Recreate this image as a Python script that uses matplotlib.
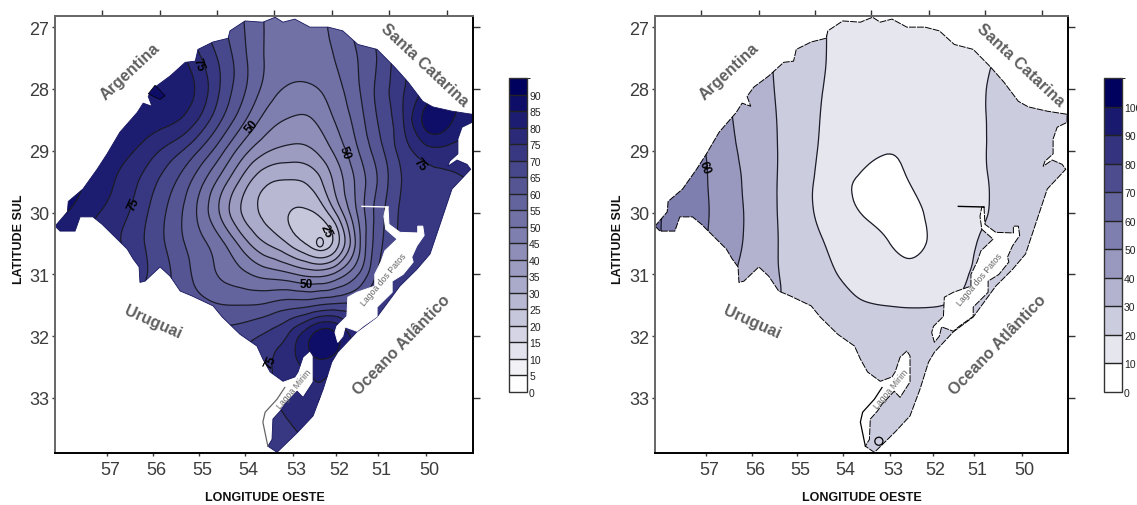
import numpy as np
import matplotlib
matplotlib.use("Agg")
import matplotlib.pyplot as plt
import matplotlib.tri as mtri
from matplotlib.colors import LinearSegmentedColormap, ListedColormap, BoundaryNorm
from matplotlib.patches import Polygon, Ellipse
from matplotlib.transforms import ScaledTranslation

plt.rcParams['font.family'] = ['Liberation Sans', 'DejaVu Sans']

W, H = 1137, 506
grid_lon = [58.5, 58, 57.5, 57, 56.5, 56, 55.5, 55, 54.5, 54, 53.5, 53, 52.5, 52, 51.5, 51, 50.5, 50, 49.5, 49]
grid_lat = [26.5, 27, 27.5, 28, 28.5, 29, 29.5, 30, 30.5, 31, 31.5, 32, 32.5, 33, 33.5, 34]

left_field = [
    [85, 85, 85, 85, 84, 82, 78, 72, 66, 60, 55, 52, 54, 57, 62, 67, 73, 78, 82, 84],
    [85, 85, 85, 85, 84, 82, 78, 72, 66, 60, 54, 50, 53, 56, 62, 67, 73, 78, 82, 84],
    [85, 85, 85, 85, 85, 84, 83, 76, 69, 61, 54, 52.5, 53.5, 55, 60, 66, 75, 80, 83, 85],
    [84, 84, 84, 84, 84, 84, 83.5, 80, 69.5, 61, 53, 49, 49, 53, 59.5, 67.5, 75, 80, 84, 85],
    [82, 82, 82, 82.5, 83, 82.5, 81.5, 75.5, 65.5, 56, 47.5, 44.5, 44.5, 50.5, 57.5, 66.5, 75, 90, 87, 81],
    [84, 83, 83, 82, 81, 76.5, 71.5, 65, 56.5, 46.5, 40.5, 38.5, 39.5, 46, 55, 64, 73, 78, 78, 77],
    [87, 87, 85.5, 81.5, 77, 71, 65, 57, 47.5, 37, 29.5, 29, 31, 41.5, 51.5, 61.5, 71, 73, 74, 75],
    [86, 86, 82, 79, 75, 68.5, 62, 54, 43, 32.5, 28, 24, 23.5, 35, 51.5, 64, 72, 73, 73, 73],
    [84, 84, 82, 78, 73, 68, 62, 57, 52, 42, 34, 28.5, 20, 23, 48, 65, 72, 73, 73, 73],
    [85, 85, 82, 78, 74, 69, 64, 58, 54, 51, 48, 46, 43, 46, 54, 68, 72, 73, 73, 73],
    [70, 70, 70, 70, 70, 68, 65, 62, 60, 60, 61, 63.5, 64, 66, 67, 72, 74, 74, 74, 74],
    [70, 70, 70, 70, 70, 70, 69, 68, 67, 68.5, 71.5, 76.5, 89, 90, 76, 72, 72, 72, 72, 72],
    [70, 70, 70, 70, 70, 70, 70, 70, 70, 72, 74.5, 78, 82, 80, 76, 72, 72, 72, 72, 72],
    [72, 72, 72, 72, 72, 72, 72, 72, 72, 72, 74, 77, 79.5, 80.5, 78, 74, 74, 74, 74, 74],
    [70, 70, 70, 70, 70, 70, 70, 70, 70, 70, 71.5, 74.2, 77.5, 79, 76, 74, 74, 74, 74, 74],
    [70, 70, 70, 70, 70, 70, 70, 70, 70, 70, 70.5, 72, 74, 75, 74, 72, 72, 72, 72, 72],
]
right_field = [
    [62, 57, 51.5, 46, 40.5, 35.5, 29, 24.5, 21, 18.5, 17, 16.5, 16.5, 17, 17.5, 19, 20.5, 22, 23, 24],
    [62, 57, 51.5, 46, 40.5, 35.5, 29, 24.5, 21, 18, 16.5, 16, 16, 16.5, 17, 18.5, 20, 22, 23, 24],
    [62, 57, 52, 46, 40.5, 35, 29.5, 25, 21, 18, 16, 15.5, 15.5, 16, 17, 18.5, 20.5, 22, 23, 24],
    [63, 58, 53, 47.5, 40.3, 35, 30, 25, 20.5, 17.5, 15.5, 14.5, 14.5, 15.5, 17, 19, 21.5, 23, 24, 25],
    [64, 59, 54, 48, 40.7, 36, 30.7, 25, 20, 16.5, 14.5, 13, 13.5, 15, 17, 19, 21.5, 23, 24, 25],
    [65, 60, 55, 50, 42, 37, 31, 25, 19.5, 15.5, 12.5, 10.3, 11.5, 14.5, 17, 19, 21.5, 23, 24, 25],
    [66, 61, 56, 50.5, 43.5, 37.5, 31, 24, 18.5, 11.5, 8, 6, 10.5, 14, 17, 19, 21, 23, 24, 25],
    [65, 60, 56, 51, 44, 38, 31, 24, 18.5, 13, 9, 6, 6, 12.5, 16, 18.7, 21, 23, 24, 25],
    [65, 60, 56, 50.3, 44, 37.5, 31, 25.5, 21, 17, 14, 10.8, 6.5, 11, 15, 20.5, 22, 23, 24, 25],
    [65, 60, 55, 50, 42, 36, 31, 26.5, 22.5, 19.3, 16.5, 14.5, 13, 14, 18, 21, 22.5, 24, 24, 24],
    [55, 50, 45, 42, 38, 34, 31, 27, 24.5, 22.5, 20.5, 20, 19.7, 19.7, 20.5, 22, 23, 24, 24, 24],
    [30, 30, 30, 30, 30, 28, 26, 25, 25, 24, 24, 24, 24, 24, 24, 24, 24, 24, 24, 24],
    [24, 24, 24, 24, 24, 24, 24, 24, 24, 24, 24, 24, 24, 24, 24, 24, 24, 24, 24, 24],
    [24, 24, 24, 24, 24, 24, 24, 24, 24, 24, 24, 24, 24, 24, 24, 24, 24, 24, 24, 24],
    [24, 24, 24, 24, 24, 24, 24, 24, 24, 24, 24, 24, 24, 24, 24, 24, 24, 24, 24, 24],
    [24, 24, 24, 24, 24, 24, 24, 24, 24, 24, 24, 24, 24, 24, 24, 24, 24, 24, 24, 24],
]

state_lon = [58.14, 58.03, 57.70, 57.59, 57.31, 57.11, 56.67, 56.56, 56.43, 56.30, 56.28, 56.17, 55.84, 55.62, 55.40,
             55.14, 54.68, 54.48, 54.09, 53.72, 53.59, 53.43, 53.15, 52.89, 52.82, 52.71, 52.56, 52.49, 52.49, 52.71,
             52.84, 53.11, 53.21, 53.37, 53.39, 53.48, 53.28, 52.82, 52.49, 52.27, 52.08, 51.95, 51.53, 51.09, 50.59,
             50.22, 49.93, 49.71, 49.45, 49.04, 49.12, 49.34, 49.54, 49.50, 49.32, 49.32, 49.23, 49.01, 49.01, 49.45,
             49.87, 50.09, 50.41, 50.70, 51.09, 51.51, 51.84, 52.16, 52.56, 52.89, 53.15, 53.32, 53.59, 53.98, 54.31,
             54.35, 54.68, 55.01, 55.07, 55.29, 55.62, 55.95, 56.10, 56.02, 56.21, 56.34, 56.72, 57.00, 57.22, 57.53,
             57.85, 57.87]
state_lat = [30.22, 30.30, 30.30, 30.07, 30.07, 30.19, 30.51, 30.59, 30.75, 30.88, 31.13, 31.11, 30.88, 31.03, 31.27,
             31.35, 31.51, 31.69, 31.97, 32.16, 32.37, 32.58, 32.73, 32.66, 32.58, 32.34, 32.24, 32.32, 32.74, 32.99,
             32.89, 33.10, 33.21, 33.34, 33.67, 33.78, 33.88, 33.55, 33.29, 32.86, 32.42, 32.26, 31.93, 31.69, 31.19,
             30.92, 30.67, 30.19, 29.62, 29.30, 29.22, 29.15, 29.25, 29.17, 29.05, 28.81, 28.62, 28.54, 28.41, 28.36,
             28.29, 28.20, 27.89, 27.65, 27.36, 27.28, 27.06, 27.00, 27.00, 26.87, 26.92, 26.84, 26.92, 26.90, 27.06,
             27.18, 27.24, 27.36, 27.55, 27.57, 27.79, 27.97, 28.12, 28.28, 28.23, 28.38, 28.70, 29.05, 29.30, 29.62,
             29.82, 29.99]
patos_lon = [50.85, 50.83, 50.59, 50.20, 50.20, 50.09, 50.06, 50.22, 50.33, 50.30, 50.52, 50.76, 50.76, 51.09, 51.09,
             51.40, 51.53, 51.79, 51.84, 51.95, 52.01, 51.97, 51.75, 51.73, 51.53, 51.14, 51.14, 51.00, 50.92, 50.65,
             50.90, 50.94, 50.90]
patos_lat = [29.91, 30.19, 30.32, 30.33, 30.22, 30.22, 30.37, 30.54, 30.72, 30.80, 31.00, 31.11, 31.29, 31.53, 31.68,
             31.84, 31.92, 31.85, 32.00, 32.10, 31.94, 31.84, 31.68, 31.37, 31.29, 31.19, 31.00, 30.79, 30.62, 30.43,
             30.27, 30.06, 29.91]
guaiba_lon = [51.42, 50.85]
guaiba_lat = [29.90, 29.91]
mirim_west_lon = [53.11, 53.28, 53.54, 53.59, 53.50, 53.48]
mirim_west_lat = [32.83, 33.02, 33.23, 33.39, 33.71, 33.78]

left_levels = list(range(0, 100, 5))
right_levels = list(range(0, 120, 10))
bottom_ticks = [57.0, 55.99, 54.99, 53.98, 52.93, 51.99, 51.07, 50.02]
bottom_labels = ['57', '56', '55', '54', '53', '52', '51', '50']
top_ticks = [57.11, 55.84, 54.59, 53.35, 52.08, 50.83, 49.56]
lat_ticks = [27, 28, 29, 30, 31, 32, 33]

region_names = ['Argentina', 'Santa Catarina', 'Uruguai', 'Oceano Atlântico']
region_lon = [56.50, 50.04, 55.99, 50.55]
region_lat = [27.71, 27.60, 31.77, 32.13]
region_rot = [43, -43, -24, 46]
lagoon_names = ['Lagoa dos Patos', 'Lagoa Mirim']
lagoon_lon = [50.94, 52.91]
lagoon_lat = [31.08, 32.84]

left_labels = [('75', 55.00, 27.60, -70), ('75', 56.43, 29.86, 65), ('75', 50.15, 29.22, -50),
               ('75', 53.43, 32.42, 65), ('50', 53.83, 28.60, 50), ('50', 51.79, 29.02, -70),
               ('50', 52.63, 31.16, 0), ('25', 52.21, 30.30, -65)]
right_labels = [('60', 57.03, 29.27, -70)]


def fx(p):
    return p / W


def fy(p):
    return 1 - p / H


def soften(z):
    out = z.copy()
    out[1:-1, 1:-1] = 0.7 * z[1:-1, 1:-1] + 0.075 * (z[:-2, 1:-1] + z[2:, 1:-1] + z[1:-1, :-2] + z[1:-1, 2:])
    return out


def panel(rect, field, levels, cbar_rect, labels, dashed):
    x0, x1, y0, y1 = rect
    ax = fig.add_axes([fx(x0), fy(y1), (x1 - x0) / W, (y1 - y0) / H])
    ax.set_xlim(58.14, 48.99)
    ax.set_ylim(33.89, 26.82)

    n = len(levels) - 1
    base = LinearSegmentedColormap.from_list('nv', ['#ffffff', '#00005f'])
    cmap = ListedColormap([base(i / (n - 1)) for i in range(n)])
    norm = BoundaryNorm(levels, n)

    lon2, lat2 = np.meshgrid(grid_lon, grid_lat)
    tri = mtri.Triangulation(lon2.ravel(), lat2.ravel())
    refiner = mtri.UniformTriRefiner(tri)
    tri2, z2 = refiner.refine_field(soften(np.array(field, float)).ravel(), subdiv=3)

    outline = Polygon(np.column_stack([state_lon, state_lat]), closed=True, transform=ax.transData,
                      fc='none', ec='none')
    ax.add_patch(outline)
    cf = ax.tricontourf(tri2, z2, levels=levels, cmap=cmap, norm=norm)
    cl = ax.tricontour(tri2, z2, levels=levels[1:-1], colors='#1c1c28', linewidths=0.9)
    cf.set_clip_path(outline)
    cl.set_clip_path(outline)

    if dashed:
        ax.plot(state_lon + state_lon[:1], state_lat + state_lat[:1], color='black', lw=0.7,
                ls=(0, (7, 1.2)))
    else:
        ax.plot(state_lon + state_lon[:1], state_lat + state_lat[:1], color='#15155f', lw=0.6)

    ax.add_patch(Polygon(np.column_stack([patos_lon, patos_lat]), closed=True, fc='white',
                         ec='black' if dashed else 'white', lw=0.7, ls=(0, (7, 1.2)) if dashed else '-', zorder=3))
    ax.plot(guaiba_lon, guaiba_lat, color='black' if dashed else 'white', lw=1.0, zorder=3)
    ax.plot(mirim_west_lon, mirim_west_lat, color='black' if dashed else '#666666', lw=0.9, zorder=3)

    for t, lo, la, r in zip(region_names, region_lon, region_lat, region_rot):
        ax.text(lo, la, t, rotation=r, rotation_mode='anchor', ha='center', va='center', fontsize=11.6,
                fontweight='bold', color='#5f5f5f', zorder=5)
    for t, lo, la in zip(lagoon_names, lagoon_lon, lagoon_lat):
        ax.text(lo, la, t, rotation=50, rotation_mode='anchor', ha='center', va='center', fontsize=6.3,
                color='#666666', zorder=5)
    for t, lo, la, r in labels:
        ax.text(lo, la, t, rotation=r, rotation_mode='anchor', ha='center', va='center', fontsize=8.5,
                color='black', fontweight='bold', zorder=6)

    ax.set_xticks(bottom_ticks)
    ax.set_xticklabels(bottom_labels)
    ax.set_yticks(lat_ticks)
    ax.tick_params(axis='both', labelsize=13, colors='#3c3c3c', length=2, width=1, pad=4)
    ax.tick_params(axis='y', pad=2)
    off = ScaledTranslation(3 / 100, 0, fig.dpi_scale_trans)
    for lb in ax.get_xticklabels():
        lb.set_transform(lb.get_transform() + off)

    top = ax.secondary_xaxis('top')
    top.set_xticks(top_ticks)
    top.set_xticklabels([])
    top.tick_params(length=4, width=1, color='#333333')
    top.spines['top'].set_visible(False)
    right = ax.secondary_yaxis('right')
    right.set_yticks(lat_ticks)
    right.set_yticklabels([])
    right.tick_params(length=5, width=1, color='#333333')
    right.spines['right'].set_visible(False)

    for s in ['left', 'top']:
        ax.spines[s].set_color('#666666')
        ax.spines[s].set_linewidth(1.4)
    for s in ['right', 'bottom']:
        ax.spines[s].set_color('black')
        ax.spines[s].set_linewidth(1.4)

    cx0, cx1, cy0, cy1 = cbar_rect
    cax = fig.add_axes([fx(cx0), fy(cy1), (cx1 - cx0) / W, (cy1 - cy0) / H])
    cb = fig.colorbar(cf, cax=cax, ticks=levels[:-1], drawedges=True)
    cb.ax.tick_params(labelsize=7.5, length=0, pad=1.5, colors='#222222')
    cb.dividers.set_color('#222222')
    cb.dividers.set_linewidth(1.0)
    cb.outline.set_edgecolor('#333333')
    cb.outline.set_linewidth(1.0)
    return ax


fig = plt.figure(figsize=(W / 100, H / 100), dpi=100)

axl = panel((55, 473, 17, 454), left_field, left_levels, (509, 527, 79, 393), left_labels, False)
axl.add_patch(Polygon(np.column_stack([[56.10, 55.95, 55.73, 55.84], [28.08, 27.94, 28.11, 28.17]]), closed=True,
                      fc='#0d0d67', ec='black', lw=0.5, zorder=2))
axl.add_patch(Ellipse((52.34, 30.48), 0.15, 0.15, fc='none', ec='#1c1c28', lw=0.9, zorder=2))

axr = panel((655, 1068, 17, 454), right_field, right_levels, (1104, 1122, 79, 393), right_labels, True)
axr.add_patch(Ellipse((53.18, 33.70), 0.18, 0.13, fc='none', ec='black', lw=0.9, zorder=2))

for cx in (265, 862):
    fig.text(fx(cx), fy(498), 'LONGITUDE OESTE', ha='center', va='center', fontsize=9, fontweight='bold', color='#111111')
for cx in (19, 618):
    fig.text(fx(cx), fy(239), 'LATITUDE SUL', ha='center', va='center', rotation=90, fontsize=9, fontweight='bold',
             color='#111111')

fig.savefig('out.png', dpi=100)
